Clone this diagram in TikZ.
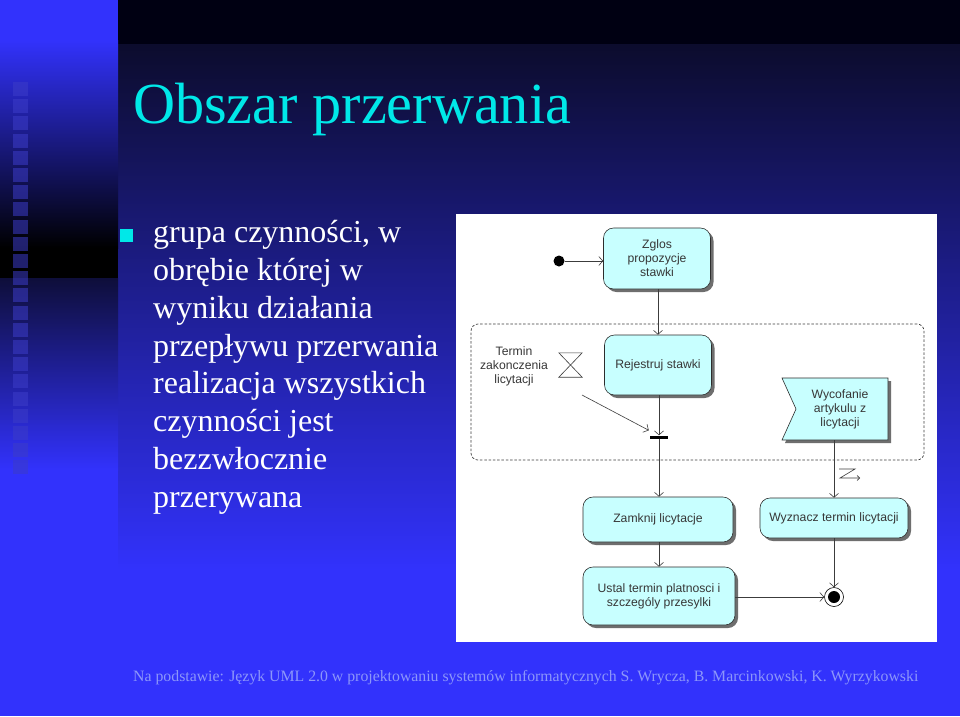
\documentclass[tikz,border=0pt]{standalone}
\usepackage{fontspec}
\setmainfont{Liberation Serif}
\newfontfamily\diagfont{Liberation Sans}
\usetikzlibrary{arrows.meta,shadows,calc}
\definecolor{bgblue}{RGB}{50,50,252}
\definecolor{topblack}{RGB}{0,0,18}
\definecolor{navytop}{RGB}{12,12,45}
\definecolor{stripnavy}{RGB}{14,14,58}
\definecolor{sqblue}{RGB}{60,60,200}
\definecolor{titlecyan}{RGB}{0,232,232}
\definecolor{footcol}{RGB}{140,150,250}
\definecolor{boxfill}{RGB}{200,255,255}
\definecolor{boxline}{RGB}{45,45,45}
\definecolor{shadowgray}{RGB}{110,110,110}
\definecolor{diagtext}{RGB}{55,55,55}
\definecolor{linegray}{RGB}{60,60,60}
\tikzset{
  difont/.style={font=\diagfont\fontsize{12.2}{14}\selectfont, text=diagtext, align=center},
  actbox/.style={difont, draw=boxline, fill=boxfill, line width=0.6pt, rounded corners=10pt,
    inner sep=2pt, general shadow={fill=shadowgray, shadow xshift=3pt, shadow yshift=-3pt}},
  conn/.style={draw=linegray, line width=0.6pt, -{Straight Barb[length=4pt,width=9pt]}},
  plainline/.style={draw=linegray, line width=0.6pt},
  region/.style={draw=linegray, line width=0.7pt, dash pattern=on 2.5pt off 1.8pt, rounded corners=7pt, inner sep=0},
  bodyline/.style={anchor=base west, text=white, font=\fontsize{32}{38}\selectfont},
}
\begin{document}
\begin{tikzpicture}[x=1pt,y=-1pt]
\useasboundingbox (0,0) rectangle (960,716);
% background
\fill[bgblue] (0,0) rectangle (960,716);
\fill[topblack] (118,0) rectangle (960,44);
\shade[top color=navytop, bottom color=bgblue] (118,44) rectangle (960,570);
\shade[top color=bgblue, bottom color=black] (0,40) rectangle (118,248);
\fill[black] (0,248) rectangle (118,278);
\shade[top color=stripnavy, bottom color=bgblue] (0,278) rectangle (118,470);
\foreach \i in {0,...,22} {
  \fill[sqblue, opacity=0.55] (13,{82+17.2*\i}) rectangle (28,{96+17.2*\i});
}
% title and body
\node[anchor=base west, text=titlecyan, font=\fontsize{58.2}{62}\selectfont, inner sep=0] (title) at (133,123) {Obszar przerwania};
\node[fill=titlecyan, minimum size=13pt, inner sep=0] (bullet) at (126.5,235.5) {};
\node[bodyline, inner sep=0] (l1) at (153,242) {grupa czynności, w};
\node[bodyline, inner sep=0] (l2) at (153,280) {obrębie której w};
\node[bodyline, inner sep=0] (l3) at (153,318) {wyniku działania};
\node[bodyline, inner sep=0] (l4) at (153,356) {przepływu przerwania};
\node[bodyline, inner sep=0] (l5) at (153,393) {realizacja wszystkich};
\node[bodyline, inner sep=0] (l6) at (153,431) {czynności jest};
\node[bodyline, inner sep=0] (l7) at (153,469) {bezzwłocznie};
\node[bodyline, inner sep=0] (l8) at (153,507) {przerywana};
% footer
\node[anchor=base west, text=footcol, font=\fontsize{15.8}{18}\selectfont, inner sep=0] (foot) at (133,681)
  {Na podstawie: Język UML 2.0 w projektowaniu systemów informatycznych S. Wrycza, B. Marcinkowski, K. Wyrzykowski};
% diagram panel
\fill[white] (456,214) rectangle (937,642);
\node[region, minimum width=453pt, minimum height=136pt] (region) at (697.5,392) {};
\node[circle, fill=black, minimum size=11pt, inner sep=0] (init) at (559,261) {};
\node[actbox, minimum width=107pt, minimum height=61pt] (zglos) at (657,258.5) {Zglos\\propozycje\\stawki};
\node[actbox, minimum width=107pt, minimum height=60pt] (rej) at (658,365) {Rejestruj stawki};
\node[difont] (termin) at (514,366) {Termin\\zakonczenia\\licytacji};
\node[minimum width=23pt, minimum height=24pt, inner sep=0] (hg) at (570.5,365) {};
\draw[plainline] (hg.north west) -- (hg.north east) -- (hg.south west) -- (hg.south east) -- cycle;
\node[fill=black, minimum width=18pt, minimum height=3pt, inner sep=0] (bar) at (659,437) {};
\node[actbox, minimum width=150pt, minimum height=45pt] (zamk) at (658,519.5) {Zamknij licytacje};
\node[actbox, minimum width=152pt, minimum height=58pt] (ustal) at (659,596) {Ustal termin platnosci i\\szczególy przesylki};
\node[actbox, minimum width=148pt, minimum height=40pt] (wyzn) at (834,518) {Wyznacz termin licytacji};
\node[circle, draw=black, fill=white, line width=0.6pt, minimum size=19pt, inner sep=0] (final) at (834,597) {};
\node[circle, fill=black, minimum size=12pt, inner sep=0] (finaldot) at (834,597) {};
% receive signal
\fill[shadowgray] (785,381) -- (891,381) -- (891,443) -- (785,443) -- (799,412) -- cycle;
\filldraw[fill=boxfill, draw=boxline, line width=0.6pt] (782,378) -- (888,378) -- (888,440) -- (782,440) -- (796,409) -- cycle;
\node[difont, minimum width=96pt, minimum height=62pt, inner sep=0] (wyc) at (840,409) {Wycofanie\\artykulu z\\licytacji};
% connectors
\draw[conn] (init) -- (init -| zglos.west);
\draw[conn] (zglos.south -| 658,0) -- (rej.north -| 658,0);
\draw[conn] (rej.south -| bar) -- (bar.north);
\coordinate (hgout) at (582,395);
\draw[conn] (hgout) -- ([xshift=-1pt,yshift=5pt]bar.north west);
\draw[conn] (bar.south) -- (zamk.north -| bar);
\draw[conn] (zamk.south -| bar) -- (ustal.north -| bar);
\draw[conn] (ustal.east |- final) -- (final.west);
\draw[conn] (wyc.south -| wyzn.north) -- (wyzn.north);
\draw[conn] (wyzn.south) -- (final.north);
\draw[draw=linegray, line width=0.6pt, -{Straight Barb[length=2.5pt,width=5pt]}] (839,469) -- (855,469) -- (840,478) -- (860,478);
\end{tikzpicture}
\end{document}
